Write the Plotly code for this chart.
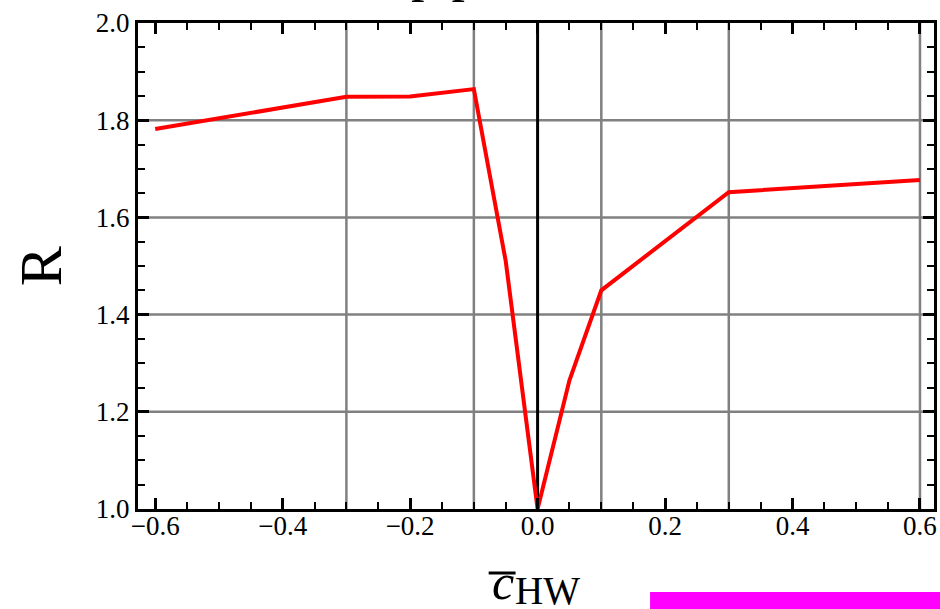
import plotly.graph_objects as go

# Ratio R as a function of the Wilson coefficient c_HW
c_hw = [-0.6, -0.3, -0.2, -0.1, -0.05, 0.0, 0.05, 0.1, 0.3, 0.6]
ratio = [1.782, 1.848, 1.849, 1.864, 1.51, 1.0, 1.265, 1.45, 1.652, 1.677]

x_ticks = [-0.6, -0.4, -0.2, 0.0, 0.2, 0.4, 0.6]
y_ticks = [1.0, 1.2, 1.4, 1.6, 1.8, 2.0]
x_grid = [-0.3, -0.1, 0.1, 0.3, 0.6]
y_grid = [1.2, 1.4, 1.6, 1.8]

W, H = 940, 609
L, R_, T, B = 138, 3, 23, 100
pw, ph = W - L - R_, H - T - B


def px(x):
    return (x - L) / pw


def py(y):
    return (H - B - y) / ph


SERIF = "Liberation Serif"

fig = go.Figure()
fig.add_trace(go.Scatter(
    x=c_hw, y=ratio, mode="lines",
    line=dict(color="#ff0000", width=4),
    hoverinfo="skip", showlegend=False,
))

shapes = []
for gx in x_grid:
    shapes.append(dict(type="line", xref="x", yref="paper", x0=gx, x1=gx, y0=0, y1=1,
                       line=dict(color="#808080", width=2.5), layer="below"))
for gy in y_grid:
    shapes.append(dict(type="line", xref="paper", yref="y", x0=0, x1=1, y0=gy, y1=gy,
                       line=dict(color="#808080", width=2.5), layer="below"))
# vertical line at c_HW = 0
shapes.append(dict(type="line", xref="x", yref="paper", x0=0, x1=0, y0=0, y1=1,
                   line=dict(color="#000000", width=3), layer="below"))
# overbar of the c in the axis label
shapes.append(dict(type="line", xref="paper", yref="paper",
                   x0=px(490), x1=px(517), y0=py(573), y1=py(573),
                   line=dict(color="#000000", width=3)))
# magenta strip at the bottom right
shapes.append(dict(type="rect", xref="paper", yref="paper",
                   x0=px(652), x1=px(945), y0=py(592), y1=py(615),
                   line=dict(width=0), fillcolor="#ff00ff"))

axis_common = dict(
    showline=True, linecolor="#000000", linewidth=3, mirror="allticks",
    ticks="inside", ticklen=11, tickwidth=2.5, tickcolor="#000000",
    showgrid=False, zeroline=False,
    tickfont=dict(family=SERIF, size=27, color="#000000"),
    tickformat=".1f",
    minor=dict(ticks="inside", ticklen=7, tickwidth=2, tickcolor="#000000", dtick=0.05),
)

fig.update_layout(
    width=W, height=H,
    margin=dict(l=L, r=R_, t=T, b=B, pad=0),
    paper_bgcolor="#ffffff", plot_bgcolor="#ffffff",
    xaxis=dict(range=[-0.627, 0.622], tickvals=x_ticks, ticklabelstandoff=-9,
               **axis_common),
    yaxis=dict(range=[1.0, 2.0], tickvals=y_ticks, **axis_common),
    shapes=shapes,
    annotations=[
        dict(text="R", xref="paper", yref="paper", x=px(41), y=py(266),
             xanchor="center", yanchor="middle", textangle=-90, showarrow=False,
             font=dict(family=SERIF, size=60, color="#000000")),
        dict(text="<i>c</i>", xref="paper", yref="paper", x=px(491), y=py(612),
             xanchor="left", yanchor="bottom", showarrow=False,
             font=dict(family=SERIF, size=50, color="#000000")),
        dict(text="HW", xref="paper", yref="paper", x=px(514), y=py(614),
             xanchor="left", yanchor="bottom", showarrow=False,
             font=dict(family=SERIF, size=39, color="#000000")),
        dict(text="p p", xref="paper", yref="paper", x=px(446), y=py(4),
             xanchor="center", yanchor="bottom", showarrow=False,
             font=dict(family=SERIF, size=54, color="#000000")),
    ],
)

fig.write_html("out.html")
